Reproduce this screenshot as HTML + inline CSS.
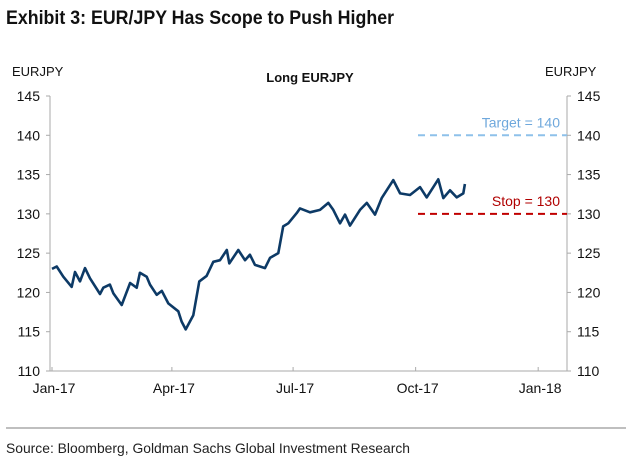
<!DOCTYPE html>
<html><head><meta charset="utf-8"><style>
body{margin:0;background:#fff;width:640px;height:464px;overflow:hidden;font-family:"Liberation Sans",sans-serif}
</style></head><body>
<svg width="640" height="464" style="font-family:'Liberation Sans',sans-serif">
<text x="6" y="24" font-size="19" font-weight="bold" fill="#111" textLength="388" lengthAdjust="spacingAndGlyphs">Exhibit 3: EUR/JPY Has Scope to Push Higher</text>
<text x="12" y="76" font-size="13" fill="#111">EURJPY</text>
<text x="545" y="76" font-size="13" fill="#111">EURJPY</text>
<text x="310" y="82" font-size="13" font-weight="bold" fill="#111" text-anchor="middle">Long EURJPY</text>
<g id="axes"></g>
<g id="marks"></g>
<line x1="6" y1="428" x2="626" y2="428" stroke="#aaa" stroke-width="1.5"/>
<text x="6" y="453" font-size="14" fill="#222" textLength="404" lengthAdjust="spacingAndGlyphs">Source: Bloomberg, Goldman Sachs Global Investment Research</text>
</svg>
<script>
const days=[0,3.5,8.5,14.8,17.3,21,24.8,28.5,36,38.5,43.5,46,52.3,58.6,63.6,66,71.1,73.6,78.6,82.4,87.3,94.8,97.3,100.4,106.1,110.6,116.1,121.1,126.1,131.2,133.1,139.9,144.9,148.6,152.4,159.9,163.7,169.9,173.6,177.4,183.7,186.2,193.7,201.2,207.4,211.2,216.2,220,223.7,231.2,236.3,242.5,247.5,256.2,261.3,268.8,276.3,281.3,290,293.8,298.8,303.8,308.8,310];
const values=[123.0,123.3,122.0,120.7,122.6,121.4,123.1,121.8,119.8,120.6,121.0,119.9,118.4,121.2,120.6,122.5,122.0,121.0,119.7,120.2,118.6,117.6,116.3,115.3,117.1,121.4,122.1,123.9,124.1,125.4,123.7,125.4,124.1,124.8,123.5,123.1,124.4,125.0,128.4,128.8,130.1,130.7,130.2,130.5,131.4,130.5,128.8,129.9,128.5,130.5,131.4,129.9,132.0,134.3,132.6,132.4,133.4,132.1,134.4,132.0,133.0,132.1,132.6,133.8];
const yTicks=[110,115,120,125,130,135,140,145];
const xTickDays=[0,90,181,273,365];
const xTickLabels=["Jan-17","Apr-17","Jul-17","Oct-17","Jan-18"];
const targetLevel=140, stopLevel=130;
const NS="http://www.w3.org/2000/svg";
const X=d=>52+d*1.332, Y=v=>371-(v-110)*(275/35);
const ax=document.getElementById('axes'), mk=document.getElementById('marks');
function el(t,a,p){const e=document.createElementNS(NS,t);for(const k in a)e.setAttribute(k,a[k]);p.appendChild(e);return e;}
let e;
e=el('line',{x1:50,y1:96,x2:50,y2:371,stroke:'#aaa'},ax);


e=el('line',{x1:567,y1:96,x2:567,y2:371,stroke:'#aaa'},ax);


e=el('line',{x1:50,y1:371,x2:567,y2:371,stroke:'#aaa'},ax);


yTicks.forEach(v=>{const y=Y(v);
 el('line',{x1:46,y1:y,x2:50,y2:y,stroke:'#aaa'},ax);
 el('line',{x1:567,y1:y,x2:571,y2:y,stroke:'#aaa'},ax);
 e=el('text',{x:40,y:y+5,'font-size':14,'text-anchor':'end',fill:'#111'},ax);e.textContent=v;
 
 
 e=el('text',{x:577,y:y+5,'font-size':14,fill:'#111'},ax);e.textContent=v;
 
 
});
xTickDays.forEach((d,i)=>{const x=X(d);
 el('line',{x1:x,y1:367,x2:x,y2:371,stroke:'#aaa'},ax);
 e=el('text',{x:x+2,y:393,'font-size':14,'text-anchor':'middle',fill:'#111'},ax);e.textContent=xTickLabels[i];
 
 
});
e=el('line',{x1:418,y1:Y(targetLevel),x2:567,y2:Y(targetLevel),stroke:'#8ec1ea','stroke-width':2,'stroke-dasharray':'7,5'},mk);


e=el('text',{x:560,y:Y(targetLevel)-8,'font-size':14,'text-anchor':'end',fill:'#6fa8dc'},mk);e.textContent='Target = '+targetLevel;


e=el('line',{x1:418,y1:Y(stopLevel),x2:567,y2:Y(stopLevel),stroke:'#c00000','stroke-width':2,'stroke-dasharray':'7,5'},mk);


e=el('text',{x:560,y:Y(stopLevel)-8,'font-size':14,'text-anchor':'end',fill:'#b00000'},mk);e.textContent='Stop = '+stopLevel;


e=el('polyline',{points:days.map((d,i)=>X(d).toFixed(1)+','+Y(values[i]).toFixed(1)).join(' '),fill:'none',stroke:'#0d3a66','stroke-width':2.6,'stroke-linejoin':'round'},mk);


</script>
</body></html>
